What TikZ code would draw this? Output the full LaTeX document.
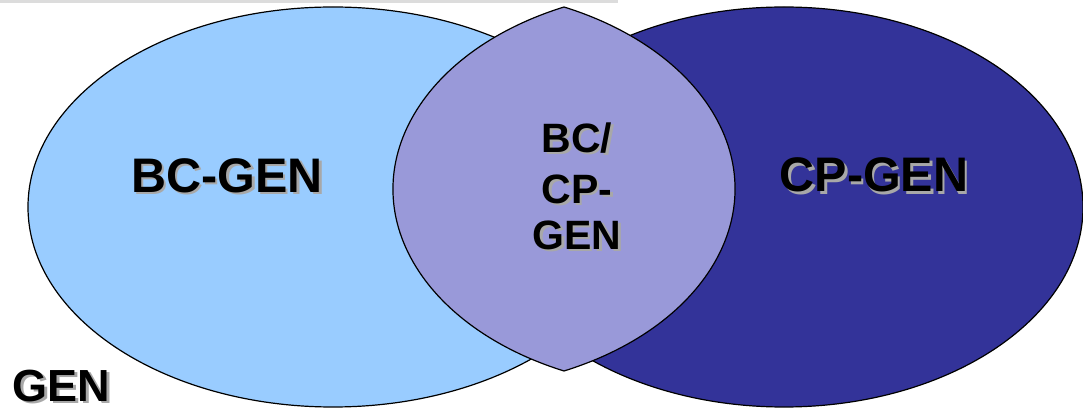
\documentclass[tikz,border=0pt]{standalone}
\usepackage{fontspec}
\setmainfont{Liberation Sans}
\definecolor{lightblue}{HTML}{99CCFF}
\definecolor{darkblue}{HTML}{333399}
\definecolor{lenscol}{HTML}{9999D9}
\definecolor{barcol}{HTML}{DCDCDC}
\definecolor{shadowcol}{HTML}{A8A8A8}
\tikzset{
  setline/.style={draw=black, line width=1.2pt},
  biglabel/.style={inner sep=0pt, font=\fontsize{48.5}{58}\selectfont\bfseries},
  lenslabel/.style={inner sep=0pt, font=\fontsize{41}{49}\selectfont\bfseries},
  genlabel/.style={inner sep=0pt, font=\fontsize{45}{54}\selectfont\bfseries},
  shadowtext/.style={text=shadowcol},
  maintext/.style={text=black}
}
\begin{document}
\begin{tikzpicture}[x=1pt,y=1pt]
\useasboundingbox (0,0) rectangle (1083,412);
% grey bar at top
\fill[barcol] (0,409) rectangle (618,412);
% ellipses
\path[setline, fill=lightblue] (333,205) ellipse [x radius=305pt, y radius=200pt];
\path[setline, fill=darkblue] (784,205) ellipse [x radius=299pt, y radius=200pt];
% lens
\path[setline, fill=lenscol] (564,405)
  arc[start angle=114.355, end angle=245.645, x radius=291pt, y radius=199.78pt]
  arc[start angle=-65.645, end angle=65.645, x radius=291pt, y radius=199.78pt] -- cycle;
% labels with shadows
\node[biglabel, shadowtext] (bcgens) at (229.5,234) {BC-GEN};
\node[biglabel, maintext] (bcgen) at (227,236.5) {BC-GEN};
\node[biglabel, shadowtext] (cpgens) at (876.5,234.5) {CP-GEN};
\node[biglabel, maintext] (cpgen) at (874,237) {CP-GEN};
\node[lenslabel, shadowtext] (l1s) at (579.5,271.5) {BC/};
\node[lenslabel, maintext] (l1) at (577,274) {BC/};
\node[lenslabel, shadowtext] (l2s) at (579.5,220.5) {CP-};
\node[lenslabel, maintext] (l2) at (577,223) {CP-};
\node[lenslabel, shadowtext] (l3s) at (579.5,174.5) {GEN};
\node[lenslabel, maintext] (l3) at (577,177) {GEN};
\node[genlabel, shadowtext] (gens) at (64,23.5) {GEN};
\node[genlabel, maintext] (gen) at (61.5,26) {GEN};
\end{tikzpicture}
\end{document}
